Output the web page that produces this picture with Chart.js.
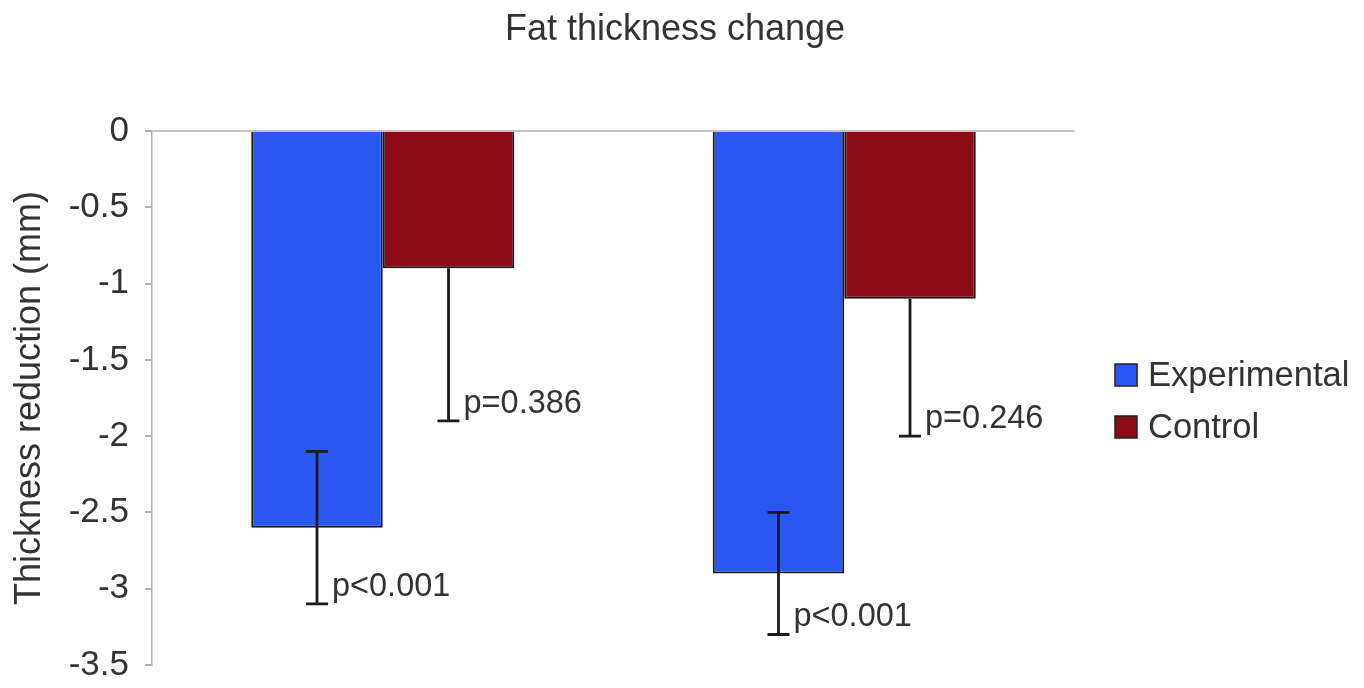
<!DOCTYPE html>
<html>
<head>
<meta charset="utf-8">
<script src="https://cdn.jsdelivr.net/npm/chart.js@4.4.1/dist/chart.umd.min.js"></script>
<style>
  html, body { margin: 0; padding: 0; background: #fff; }
  #wrap { width: 1364px; height: 688px; }
</style>
</head>
<body>
<div id="wrap"><canvas id="fatChart"></canvas></div>
<script>
// =====================
// DATA
// =====================

const categories = ["Time point 1", "Time point 2"];
const seriesNames = ["Experimental", "Control"];

const experimental = [-2.6, -2.9];
const control = [-0.9, -1.1];

// error bars (down = further negative, up = toward zero)
const expErrDown = [0.5, 0.4];
const expErrUp = [0.5, 0.4];
const ctrlErrDown = [1.0, 0.9];
const ctrlErrUp = [0, 0];

const expPLabels = ["p<0.001", "p<0.001"];
const ctrlPLabels = ["p=0.386", "p=0.246"];

const yMin = -3.5;
const yMax = 0;
const yStep = 0.5;

const chartTitle = "Fat thickness change";

const BLUE = "#2a56f2";
const RED = "#8b0c18";
const FONT = "'Liberation Sans', Arial, sans-serif";


// =====================
// PLUGINS
// =====================

const errorBars = {
  id: "errorBars",
  afterDatasetsDraw(chart) {
    const ctx = chart.ctx;
    const y = chart.scales.y;
    const errs = [
      { down: expErrDown, up: expErrUp, labels: expPLabels },
      { down: ctrlErrDown, up: ctrlErrUp, labels: ctrlPLabels }
    ];
    ctx.save();
    ctx.strokeStyle = "#1a1a1a";
    ctx.lineWidth = 2.8;
    chart.data.datasets.forEach((ds, di) => {
      const meta = chart.getDatasetMeta(di);
      meta.data.forEach((bar, i) => {
        const v = ds.data[i];
        const yLow = y.getPixelForValue(v - errs[di].down[i]);
        const yHigh = y.getPixelForValue(v + errs[di].up[i]);
        const x = bar.x;
        const cap = 11;
        ctx.beginPath();
        ctx.moveTo(x, yHigh);
        ctx.lineTo(x, yLow);
        ctx.moveTo(x - cap, yLow);
        ctx.lineTo(x + cap, yLow);
        if (errs[di].up[i] > 0) {
          ctx.moveTo(x - cap, yHigh);
          ctx.lineTo(x + cap, yHigh);
        }
        ctx.stroke();

        ctx.fillStyle = "#333";
        ctx.font = "32.5px " + FONT;
        ctx.textAlign = "left";
        ctx.textBaseline = "alphabetic";
        ctx.fillText(errs[di].labels[i], x + 15, yLow - 8);
      });
    });
    ctx.restore();
  }
};

const sideText = {
  id: "sideText",
  afterDraw(chart) {
    const ctx = chart.ctx;
    ctx.save();
    // title
    ctx.fillStyle = "#333";
    ctx.font = "36px " + FONT;
    ctx.textAlign = "center";
    ctx.textBaseline = "middle";
    ctx.fillText(chartTitle, 675, 30);

    // legend
    ctx.font = "34.5px " + FONT;
    ctx.textAlign = "left";
    chart.data.datasets.forEach((ds, i) => {
      const cy = 375 + i * 52;
      ctx.fillStyle = ds.backgroundColor;
      ctx.fillRect(1115, cy - 11, 22, 22);
      ctx.strokeStyle = "#222";
      ctx.lineWidth = 1.5;
      ctx.strokeRect(1115, cy - 11, 22, 22);
      ctx.fillStyle = "#333";
      ctx.fillText(ds.label, 1148, cy + 1);
    });
    ctx.restore();
  }
};


// =====================
// CHART
// =====================

new Chart(document.getElementById("fatChart"), {
  type: "bar",
  data: {
    labels: categories,
    datasets: [
      {
        label: seriesNames[0],
        data: experimental,
        backgroundColor: BLUE,
        borderColor: "#1a1a1a",
        borderWidth: 2
      },
      {
        label: seriesNames[1],
        data: control,
        backgroundColor: RED,
        borderColor: "#1a1a1a",
        borderWidth: 2
      }
    ]
  },
  options: {
    responsive: true,
    maintainAspectRatio: false,
    animation: false,
    layout: { padding: { top: 131, right: 289, bottom: 23, left: 0 } },
    datasets: { bar: { categoryPercentage: 0.57, barPercentage: 1.0 } },
    plugins: {
      legend: { display: false },
      tooltip: { enabled: false },
      title: { display: false }
    },
    scales: {
      x: { display: false },
      y: {
        min: yMin,
        max: yMax,
        afterFit(scale) {
          scale.width = 152;
          scale.paddingTop = 0;
          scale.paddingBottom = 0;
        },
        ticks: {
          stepSize: yStep,
          color: "#333",
          padding: 16,
          font: { family: FONT, size: 35 },
          callback: v => String(v)
        },
        grid: {
          color: c => (c.tick && c.tick.value === 0 ? "#c4c4c4" : "rgba(0,0,0,0)"),
          lineWidth: 2,
          tickColor: "#b0b0b0",
          tickLength: 7
        },
        border: { display: true, color: "#b0b0b0", width: 1.5 },
        title: {
          display: true,
          text: "Thickness reduction (mm)",
          color: "#333",
          font: { family: FONT, size: 36 },
          padding: { top: 8, bottom: 0 }
        }
      }
    }
  },
  plugins: [errorBars, sideText]
});
</script>
</body>
</html>
